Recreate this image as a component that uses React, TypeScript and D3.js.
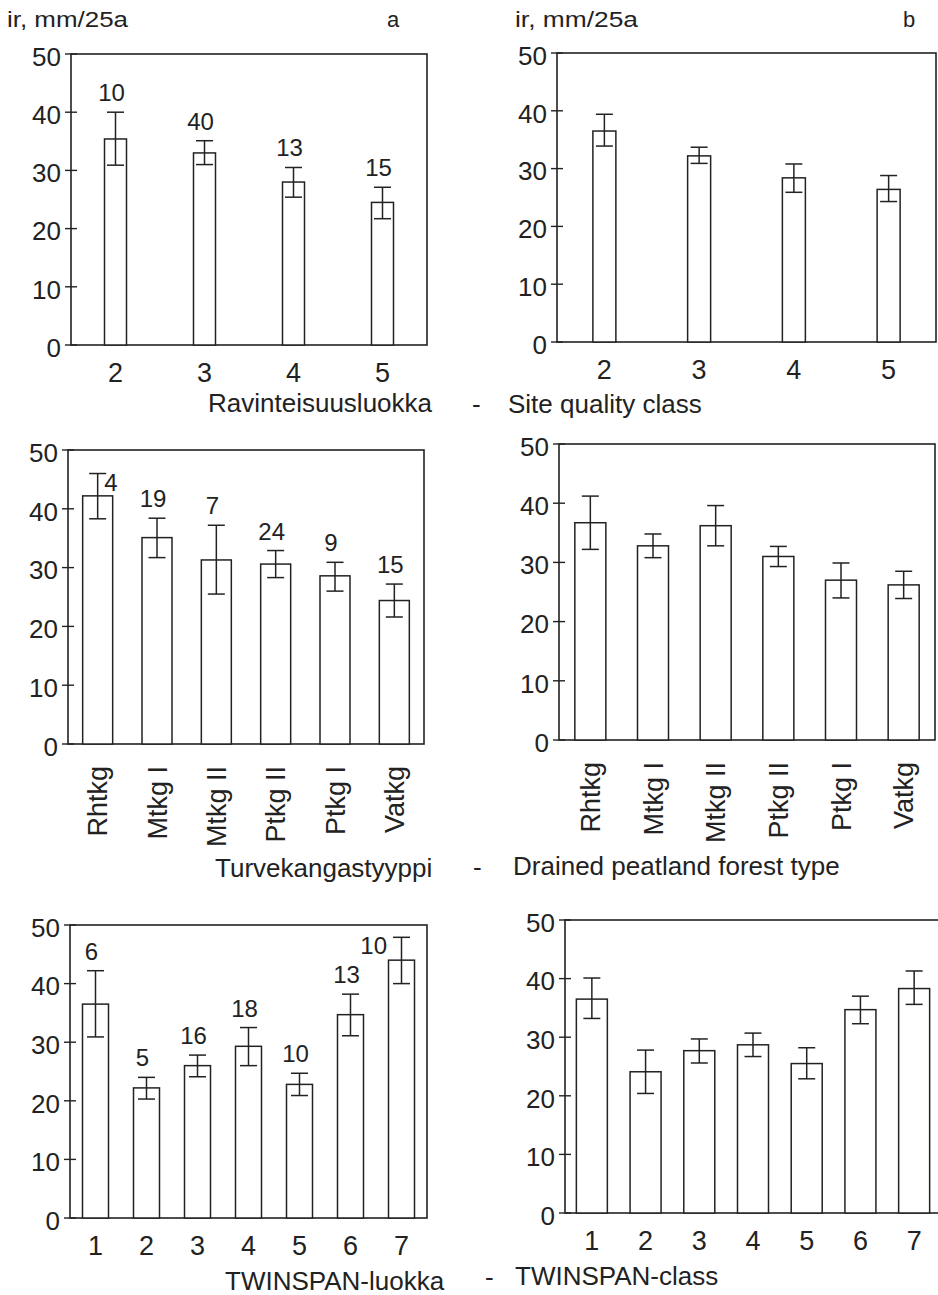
import React from "react";
import * as d3 from "d3";

// ---------- data ----------
const siteClasses = ["2", "3", "4", "5"];
const siteMeanA = [35.4, 33.0, 28.0, 24.5];
const siteLowA = [30.9, 31.0, 25.4, 21.7];
const siteHighA = [40.0, 35.1, 30.5, 27.1];
const siteN = [10, 40, 13, 15];
const siteMeanB = [36.5, 32.2, 28.4, 26.4];
const siteLowB = [33.9, 30.9, 25.9, 24.3];
const siteHighB = [39.4, 33.7, 30.8, 28.8];

const peatTypes = ["Rhtkg", "Mtkg I", "Mtkg II", "Ptkg II", "Ptkg I", "Vatkg"];
const peatMeanA = [42.2, 35.1, 31.3, 30.6, 28.6, 24.4];
const peatLowA = [38.3, 31.7, 25.5, 28.3, 26.0, 21.6];
const peatHighA = [46.0, 38.4, 37.2, 32.9, 30.9, 27.2];
const peatN = [4, 19, 7, 24, 9, 15];
const peatMeanB = [36.7, 32.8, 36.2, 31.0, 27.0, 26.2];
const peatLowB = [32.2, 30.8, 32.8, 29.3, 24.0, 23.9];
const peatHighB = [41.2, 34.8, 39.6, 32.7, 29.9, 28.5];

const twinClasses = ["1", "2", "3", "4", "5", "6", "7"];
const twinMeanA = [36.5, 22.2, 26.0, 29.3, 22.8, 34.7, 44.0];
const twinLowA = [30.9, 20.3, 24.1, 26.0, 20.9, 31.1, 40.0];
const twinHighA = [42.2, 24.0, 27.8, 32.5, 24.7, 38.2, 47.9];
const twinN = [6, 5, 16, 18, 10, 13, 10];
const twinMeanB = [36.5, 24.1, 27.7, 28.7, 25.5, 34.7, 38.3];
const twinLowB = [33.2, 20.4, 25.6, 26.7, 22.9, 32.3, 35.6];
const twinHighB = [40.1, 27.8, 29.7, 30.7, 28.2, 37.0, 41.3];

const yTicks = [0, 10, 20, 30, 40, 50];

// ---------- style ----------
const INK = "#222";
const FONT = "'Liberation Sans', Arial, Helvetica, sans-serif";

type PanelProps = {
  x0: number; x1: number; yTop: number; y0: number; barW: number;
  cats: string[]; mean: number[]; low: number[]; high: number[]; n?: number[];
  rotated?: boolean;
};

function Panel({ x0, x1, yTop, y0, barW, cats, mean, low, high, n, rotated }: PanelProps) {
  const x = d3.scaleBand<string>().domain(cats).range([x0, x1]);
  const y = d3.scaleLinear().domain([0, 50]).range([y0, yTop]);
  const cx = (c: string) => (x(c) as number) + x.bandwidth() / 2;
  const cap = 8.5;
  return (
    <g>
      <rect x={x0} y={yTop} width={x1 - x0} height={y0 - yTop} fill="none" stroke={INK} strokeWidth={1.6} />
      {yTicks.map((t) => (
        <g key={t}>
          <line x1={x0 - 6} x2={x0 + 6} y1={y(t)} y2={y(t)} stroke={INK} strokeWidth={1.4} />
          <text x={x0 - 10} y={y(t)} dy="0.45em" textAnchor="end" fontSize={26} fill={INK} fontFamily={FONT}>{t}</text>
        </g>
      ))}
      {cats.map((c, i) => {
        const c0 = cx(c);
        return (
          <g key={c}>
            <rect x={c0 - barW / 2} y={y(mean[i])} width={barW} height={y(0) - y(mean[i])} fill="#fff" stroke={INK} strokeWidth={1.5} />
            <line x1={c0} x2={c0} y1={y(low[i])} y2={y(high[i])} stroke={INK} strokeWidth={1.5} />
            <line x1={c0 - cap} x2={c0 + cap} y1={y(low[i])} y2={y(low[i])} stroke={INK} strokeWidth={1.5} />
            <line x1={c0 - cap} x2={c0 + cap} y1={y(high[i])} y2={y(high[i])} stroke={INK} strokeWidth={1.5} />
            {rotated ? (
              <text transform={`translate(${c0},${y0 + 22}) rotate(-90)`} dy="0.36em" textAnchor="end" fontSize={27} fill={INK} fontFamily={FONT}>{c}</text>
            ) : (
              <text x={c0} y={y0 + 37} textAnchor="middle" fontSize={27} fill={INK} fontFamily={FONT}>{c}</text>
            )}
            {n && (() => {
              const top = y(high[i]);
              const fits = top - 11 - 17 > yTop;
              if (fits) {
                return <text x={c0 - 4} y={top - 11} textAnchor="middle" fontSize={24} fill={INK} fontFamily={FONT}>{n[i]}</text>;
              }
              const last = i === cats.length - 1;
              return (
                <text x={last ? c0 - cap - 6 : c0 + cap - 2} y={top + 17} textAnchor={last ? "end" : "start"} fontSize={24} fill={INK} fontFamily={FONT}>{n[i]}</text>
              );
            })()}
          </g>
        );
      })}
    </g>
  );
}

function T({ x, y, s, size = 26, anchor = "start", len }: { x: number; y: number; s: string; size?: number; anchor?: string; len?: number }) {
  return (
    <text x={x} y={y} fontSize={size} textAnchor={anchor as any} fill={INK} fontFamily={FONT}
      {...(len ? { textLength: len, lengthAdjust: "spacingAndGlyphs" } : {})}>{s}</text>
  );
}

export default function App() {
  return (
    <svg width={938} height={1295} style={{ position: "absolute", left: 0, top: 0, background: "#fff" }}>
      <rect x={0} y={0} width={938} height={1295} fill="#fff" />
      {/* row 1 */}
      <T x={7} y={27} s="ir, mm/25a" size={22} len={121} />
      <T x={387} y={27} s="a" size={22} />
      <T x={515} y={27} s="ir, mm/25a" size={22} len={123} />
      <T x={903} y={27} s="b" size={22} />
      <Panel x0={71} x1={427} yTop={54} y0={345} barW={22} cats={siteClasses} mean={siteMeanA} low={siteLowA} high={siteHighA} n={siteN} />
      <Panel x0={557} x1={936} yTop={53} y0={342} barW={23} cats={siteClasses} mean={siteMeanB} low={siteLowB} high={siteHighB} />
      <T x={208} y={412} s="Ravinteisuusluokka" />
      <T x={472} y={413} s="-" />
      <T x={508} y={413} s="Site quality class" />

      {/* row 2 */}
      <Panel x0={68} x1={424} yTop={450} y0={744} barW={30} cats={peatTypes} mean={peatMeanA} low={peatLowA} high={peatHighA} n={peatN} rotated />
      <Panel x0={559} x1={935} yTop={444} y0={740} barW={31} cats={peatTypes} mean={peatMeanB} low={peatLowB} high={peatHighB} rotated />
      <T x={215} y={877} s="Turvekangastyyppi" />
      <T x={473} y={876} s="-" />
      <T x={513} y={875} s="Drained peatland forest type" />

      {/* row 3 */}
      <Panel x0={70} x1={427} yTop={925} y0={1218} barW={26} cats={twinClasses} mean={twinMeanA} low={twinLowA} high={twinHighA} n={twinN} />
      <Panel x0={565} x1={941} yTop={920} y0={1213} barW={31} cats={twinClasses} mean={twinMeanB} low={twinLowB} high={twinHighB} />
      <T x={225} y={1290} s="TWINSPAN-luokka" />
      <T x={485} y={1286} s="-" />
      <T x={515} y={1285} s="TWINSPAN-class" />
    </svg>
  );
}
